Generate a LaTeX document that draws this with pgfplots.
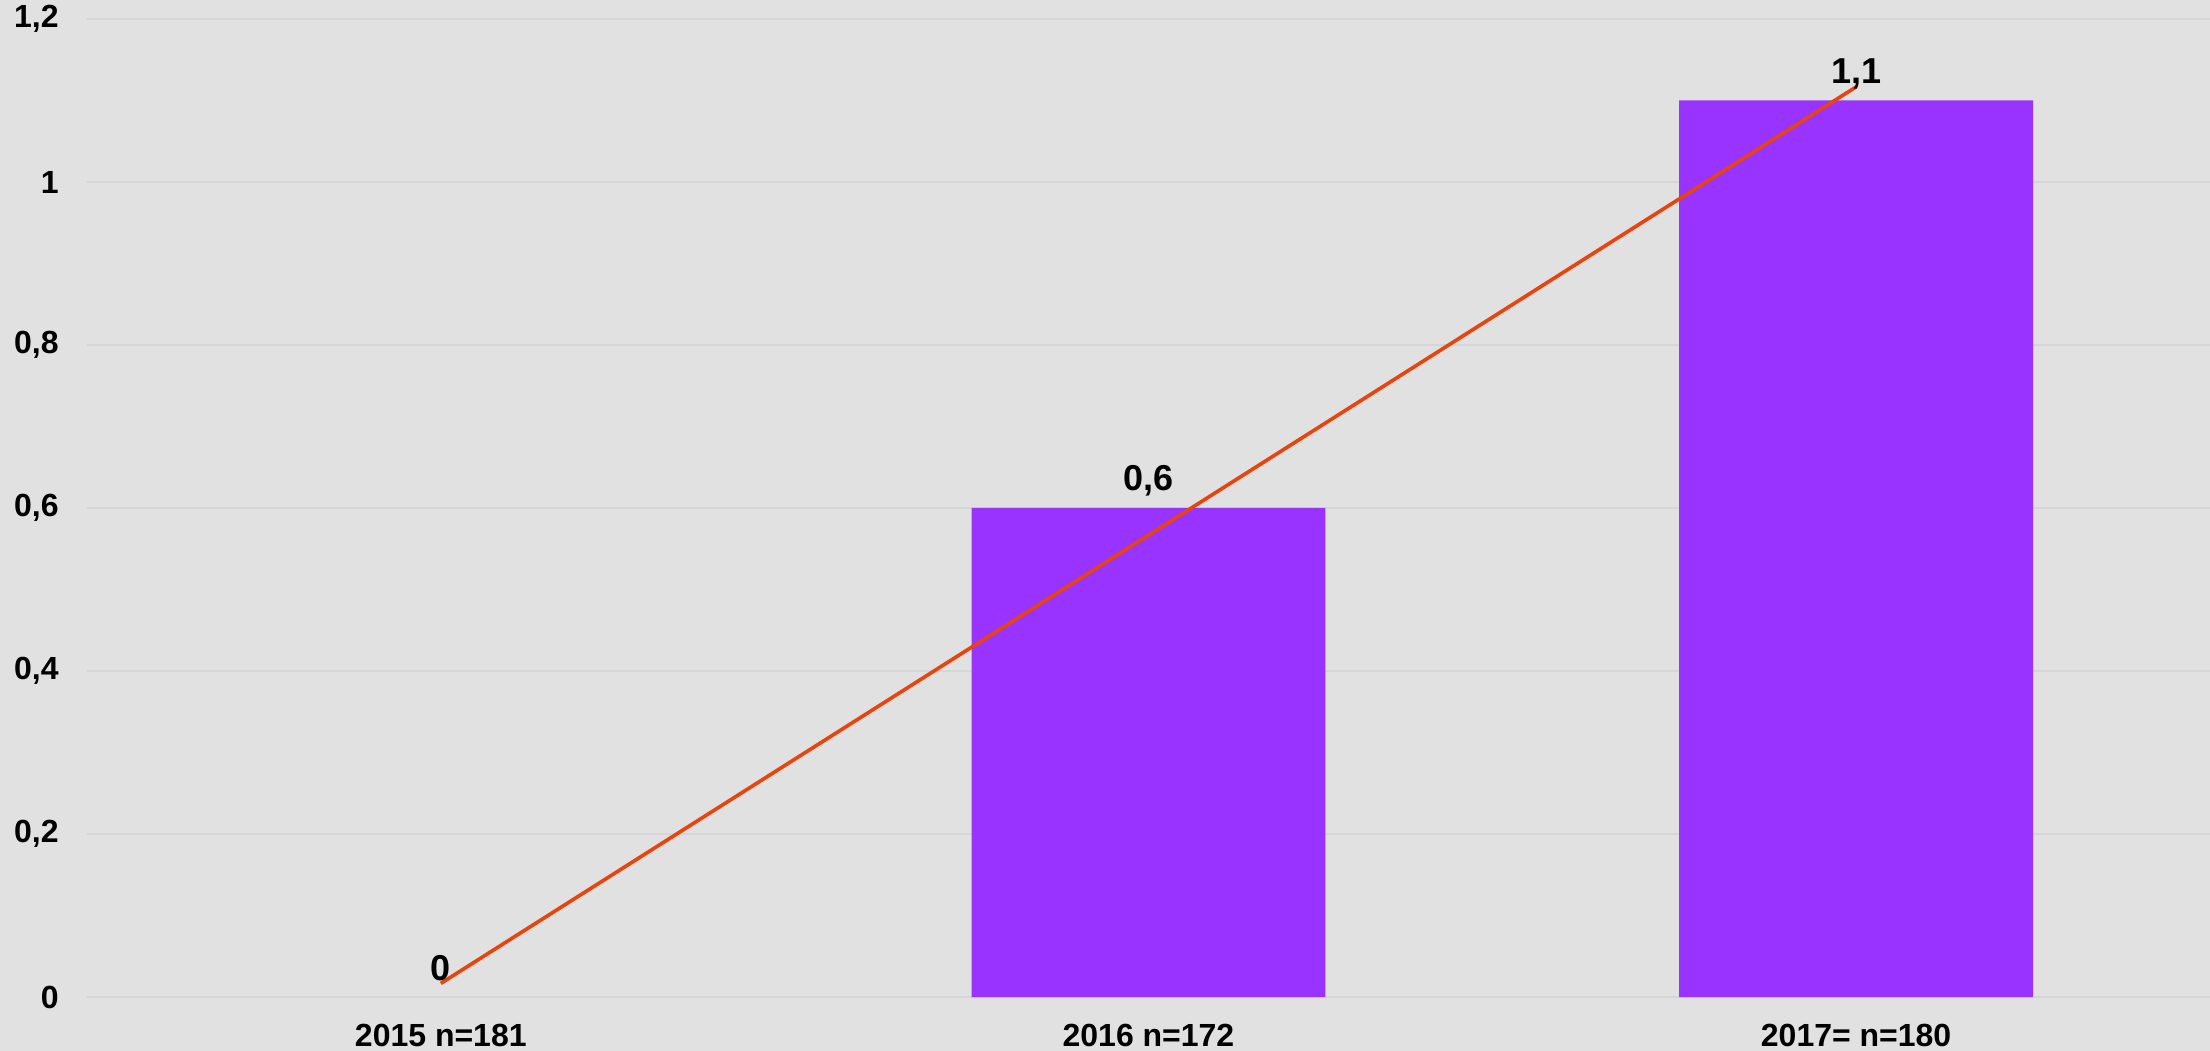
\documentclass[border=0pt]{standalone}
\usepackage{fontspec}
\setmainfont{Liberation Sans}
\usepackage{pgfplots}
\pgfplotsset{compat=1.18}
\definecolor{bgc}{RGB}{225,225,225}
\definecolor{gridc}{RGB}{214,214,214}
\definecolor{barc}{RGB}{153,51,255}
\definecolor{linec}{RGB}{232,68,14}
\begin{document}
\begin{tikzpicture}
\fill[bgc] (-43.5bp,-27bp) rectangle (1061.5bp,498.5bp);
\path[use as bounding box] (-43.5bp,-27bp) rectangle (1061.5bp,498.5bp);
\begin{axis}[
  at={(0,0)}, anchor=south west,
  scale only axis,
  width=1061.5bp, height=489bp,
  xmin=-0.5, xmax=2.5,
  ymin=0, ymax=1.2,
  ytick={0,0.2,0.4,0.6,0.8,1,1.2},
  xtick={0,1,2},
  xticklabels={2015 n=181, 2016 n=172, 2017= n=180},
  axis line style={draw=none},
  major tick length=0pt,
  ymajorgrids,
  grid style={gridc, line width=1bp},
  /pgf/number format/.cd, use comma, fixed, precision=1, assume math mode=true,
  /pgfplots/.cd,
  yticklabel style={font=\fontsize{16bp}{18bp}\selectfont\bfseries, anchor=east, inner sep=0pt, xshift=-14bp},
  xticklabel style={font=\fontsize{16bp}{18bp}\selectfont\bfseries, anchor=base, inner sep=0pt, yshift=-24.5bp},
  every node near coord/.style={font=\fontsize{18bp}{20bp}\selectfont\bfseries, anchor=base, inner sep=0pt, yshift=8.5bp, text=black},
  clip=false,
]
\addplot[ybar, bar width=0.5, fill=barc, draw=none, nodes near coords]
  coordinates {(1,0.6) (2,1.1)};
\addplot[only marks, mark=none, nodes near coords] coordinates {(0,0)};
\addplot[linec, line width=1.8bp, no markers] coordinates {(0,0.0167) (2,1.1167)};
\end{axis}
\end{tikzpicture}
\end{document}
